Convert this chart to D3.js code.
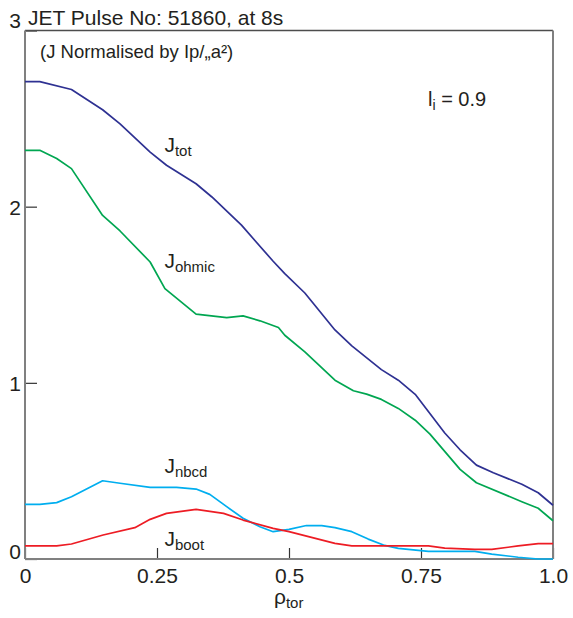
<!DOCTYPE html>
<html>
<head>
<meta charset="utf-8">
<script src="https://cdn.jsdelivr.net/npm/d3@7"></script>
<style>
  body { margin: 0; background: #fff; }
  svg text { font-family: "Liberation Sans", Arial, Helvetica, sans-serif; fill: #231f20; }
</style>
</head>
<body>
<script>
(function(){

	//current density profiles, [rho_tor, J]
	var jTot = [[0,2.71],[0.028,2.71],[0.088,2.665],[0.147,2.55],[0.18,2.47],[0.237,2.31],[0.268,2.235],
		[0.324,2.13],[0.354,2.055],[0.41,1.895],[0.47,1.69],[0.492,1.62],[0.53,1.51],[0.587,1.30],
		[0.619,1.21],[0.675,1.075],[0.707,1.015],[0.739,0.935],[0.795,0.715],[0.824,0.62],[0.855,0.533],
		[0.887,0.49],[0.941,0.424],[0.972,0.376],[1.0,0.305]];
	var jOhmic = [[0,2.32],[0.028,2.32],[0.06,2.273],[0.088,2.216],[0.147,1.95],[0.18,1.862],[0.237,1.686],
		[0.265,1.535],[0.324,1.39],[0.382,1.37],[0.413,1.38],[0.445,1.352],[0.48,1.314],[0.492,1.27],
		[0.53,1.176],[0.587,1.015],[0.622,0.955],[0.647,0.936],[0.675,0.906],[0.707,0.855],[0.739,0.788],
		[0.767,0.709],[0.824,0.509],[0.855,0.433],[0.941,0.325],[0.972,0.288],[1.0,0.217]];
	var jNbcd = [[0,0.31],[0.028,0.31],[0.06,0.32],[0.088,0.353],[0.147,0.444],[0.18,0.43],[0.237,0.407],
		[0.287,0.407],[0.324,0.397],[0.35,0.367],[0.382,0.297],[0.413,0.231],[0.445,0.183],[0.47,0.155],
		[0.50,0.168],[0.533,0.19],[0.562,0.189],[0.587,0.178],[0.619,0.155],[0.65,0.113],[0.679,0.079],
		[0.707,0.06],[0.764,0.043],[0.852,0.043],[0.884,0.028],[0.934,0.01],[0.972,0],[1.0,0]];
	var jBoot = [[0,0.074],[0.06,0.074],[0.088,0.085],[0.148,0.136],[0.208,0.178],[0.237,0.225],[0.268,0.259],
		[0.324,0.282],[0.376,0.259],[0.413,0.221],[0.47,0.174],[0.50,0.155],[0.587,0.089],[0.619,0.074],
		[0.764,0.074],[0.795,0.062],[0.852,0.055],[0.884,0.055],[0.934,0.074],[0.972,0.087],[1.0,0.087]];

	var xTicks = [0, 0.25, 0.5, 0.75, 1.0],
		xTickLabels = ["0", "0.25", "0.5", "0.75", "1.0"],
		yTicks = [0, 1, 2, 3];

	//label anchor for each curve, in data units
	var series = [
		{name: "tot", data: jTot, color: "#2e3192", label: [0.264, 2.31]},
		{name: "ohmic", data: jOhmic, color: "#00a651", label: [0.264, 1.65]},
		{name: "nbcd", data: jNbcd, color: "#00aeef", label: [0.264, 0.49]},
		{name: "boot", data: jBoot, color: "#ed1c24", label: [0.264, 0.075]}
	];

	//frame dimensions
	var width = 573,
		height = 618,
		margin = {top: 30.5, right: 20, bottom: 59, left: 25},
		innerWidth = width - margin.left - margin.right,
		innerHeight = height - margin.top - margin.bottom;

	var x = d3.scaleLinear().domain([0, 1]).range([0, innerWidth]);
	var y = d3.scaleLinear().domain([0, 3]).range([innerHeight, 0]);

	var svg = d3.select("body")
		.append("svg")
		.attr("width", width)
		.attr("height", height);

	var g = svg.append("g")
		.attr("transform", "translate(" + margin.left + "," + margin.top + ")");

	//x axis with inward ticks
	var xAxis = g.append("g")
		.attr("transform", "translate(0," + innerHeight + ")")
		.call(d3.axisBottom(x)
			.tickValues(xTicks)
			.tickFormat(function(d, i){ return xTickLabels[i]; })
			.tickSize(-11)
			.tickPadding(9));
	xAxis.select(".domain").remove();
	xAxis.selectAll("line").attr("stroke", "#333").attr("stroke-width", 1.2);
	xAxis.selectAll("text").attr("font-size", 21).attr("fill", "#231f20");

	//y axis
	var yAxis = g.append("g")
		.call(d3.axisLeft(y)
			.tickValues(yTicks)
			.tickFormat(d3.format("d"))
			.tickSize(-12)
			.tickPadding(4));
	yAxis.select(".domain").remove();
	yAxis.selectAll("line").attr("stroke", "#333").attr("stroke-width", 1.2);
	yAxis.selectAll("text")
		.attr("font-size", 21)
		.attr("fill", "#231f20")
		.attr("dy", function(d){
			if (d === 0) return "-0.02em";
			if (d === 3) return "-0.15em";
			return "0.36em";
		});

	//frame
	g.append("line").attr("x1", 0).attr("x2", innerWidth).attr("y1", 0).attr("y2", 0)
		.attr("stroke", "#4d4d4d").attr("stroke-width", 1.5);
	g.append("line").attr("x1", innerWidth).attr("x2", innerWidth).attr("y1", 0).attr("y2", innerHeight)
		.attr("stroke", "#808080").attr("stroke-width", 2);
	g.append("line").attr("x1", 0).attr("x2", 0).attr("y1", 0).attr("y2", innerHeight)
		.attr("stroke", "#808080").attr("stroke-width", 2);
	g.append("line").attr("x1", 0).attr("x2", innerWidth).attr("y1", innerHeight).attr("y2", innerHeight)
		.attr("stroke", "#808080").attr("stroke-width", 2);

	//profiles
	var line = d3.line()
		.x(function(d){ return x(d[0]); })
		.y(function(d){ return y(d[1]); });

	g.selectAll(".profile")
		.data(series)
		.enter()
		.append("path")
		.attr("class", "profile")
		.attr("d", function(d){ return line(d.data); })
		.attr("fill", "none")
		.attr("stroke", function(d){ return d.color; })
		.attr("stroke-width", 1.7)
		.attr("stroke-linejoin", "round");

	//curve labels
	var labels = g.selectAll(".jlabel")
		.data(series)
		.enter()
		.append("text")
		.attr("class", "jlabel")
		.attr("x", function(d){ return x(d.label[0]); })
		.attr("y", function(d){ return y(d.label[1]); })
		.attr("font-size", 21);
	labels.append("tspan").text("J");
	labels.append("tspan")
		.attr("font-size", 15)
		.attr("dy", 4)
		.text(function(d){ return d.name; });

	//titles and annotations
	svg.append("text")
		.attr("x", 28)
		.attr("y", 25)
		.attr("font-size", 21)
		.text("JET Pulse No: 51860, at 8s");

	svg.append("text")
		.attr("x", 40)
		.attr("y", 58)
		.attr("font-size", 18.5)
		.text("(J Normalised by Ip/\u201ea\u00b2)");

	var li = svg.append("text")
		.attr("x", 428)
		.attr("y", 106)
		.attr("font-size", 20);
	li.append("tspan").text("l");
	li.append("tspan").attr("font-size", 14).attr("dy", 4).text("i");
	li.append("tspan").attr("dy", -4).text(" = 0.9");

	var xl = svg.append("text")
		.attr("x", 274)
		.attr("y", 604)
		.attr("font-size", 21);
	xl.append("tspan").text("\u03c1");
	xl.append("tspan").attr("font-size", 15).attr("dy", 4).text("tor");

})();
</script>
</body>
</html>
